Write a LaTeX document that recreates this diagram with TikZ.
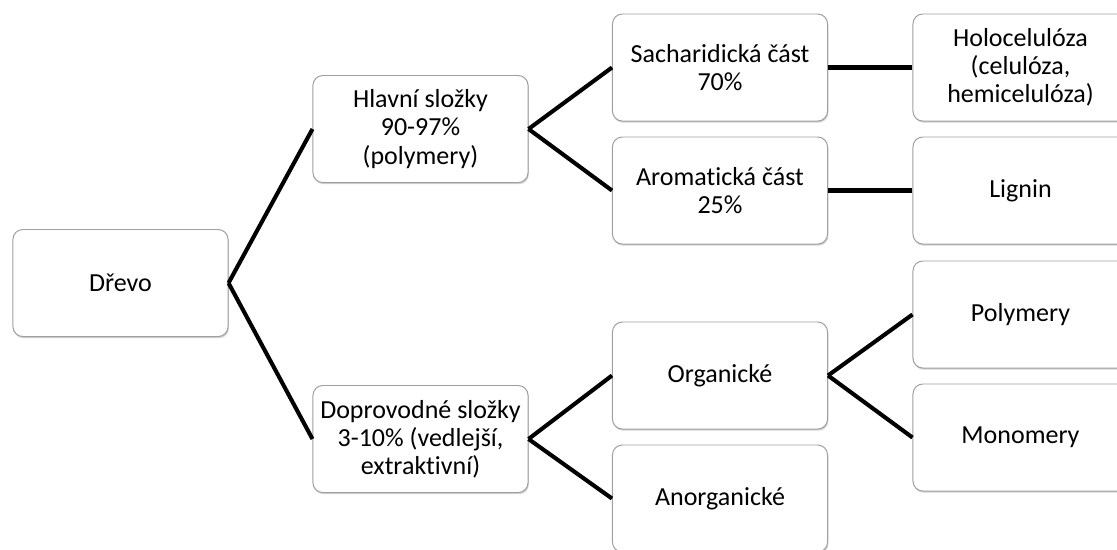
\documentclass[tikz,border=0pt]{standalone}
\usepackage{fontspec}
\setmainfont{Carlito}[Ligatures=NoCommon]
\usetikzlibrary{shadows}

\tikzset{
    part/.style={draw=gray!75, line width=0.7pt, fill=white, rounded corners=7pt,
        minimum width=5.375cm, minimum height=2.675cm, inner sep=0pt,
        align=center, font=\fontsize{18.5}{20}\selectfont,
        drop shadow={shadow xshift=0.6pt, shadow yshift=-1.2pt, opacity=0.35}},
    link/.style={line width=2.9pt}
}

\begin{document}
\begin{tikzpicture}[x=0.025cm, y=-0.025cm]
    \useasboundingbox (0,0) rectangle (1117,549);
    \clip (0,0) rectangle (1117,549);

    % Boxes:
    \node [part] (drevo)  at (120.5,283)   {Dřevo};
    \node [part] (hlavni) at (420.5,129)   {Hlavní složky\\90-97\%\\(polymery)};
    \node [part] (doprov) at (420.5,439)   {Doprovodné složky\\3-10\% (vedlejší,\\extraktivní)};

    \node [part] (sachar) at (720,67.5)    {Sacharidická část\\70\%};
    \node [part] (aromat) at (720,190.5)   {Aromatická část\\25\%};
    \node [part] (organ)  at (720,375.5)   {Organické};
    \node [part] (anorg)  at (720,498.5)   {Anorganické};

    \node [part] (holo)   at (1020.5,67.5)  {Holocelulóza\\(celulóza,\\hemicelulóza)};
    \node [part] (lignin) at (1020.5,190.5) {Lignin};
    \node [part] (poly)   at (1020.5,314.5) {Polymery};
    \node [part] (mono)   at (1020.5,437.5) {Monomery};

    % Connectors:
    \begin{scope}[link]
    \draw (drevo.east) -- (hlavni.west);
    \draw (drevo.east) -- (doprov.west);
    \draw (hlavni.east) -- (sachar.west);
    \draw (hlavni.east) -- (aromat.west);
    \draw (doprov.east) -- (organ.west);
    \draw (doprov.east) -- (anorg.west);
    \draw (sachar.east) -- (holo.west);
    \draw (aromat.east) -- (lignin.west);
    \draw (organ.east) -- (poly.west);
    \draw (organ.east) -- (mono.west);
    \end{scope}
\end{tikzpicture}
\end{document}
